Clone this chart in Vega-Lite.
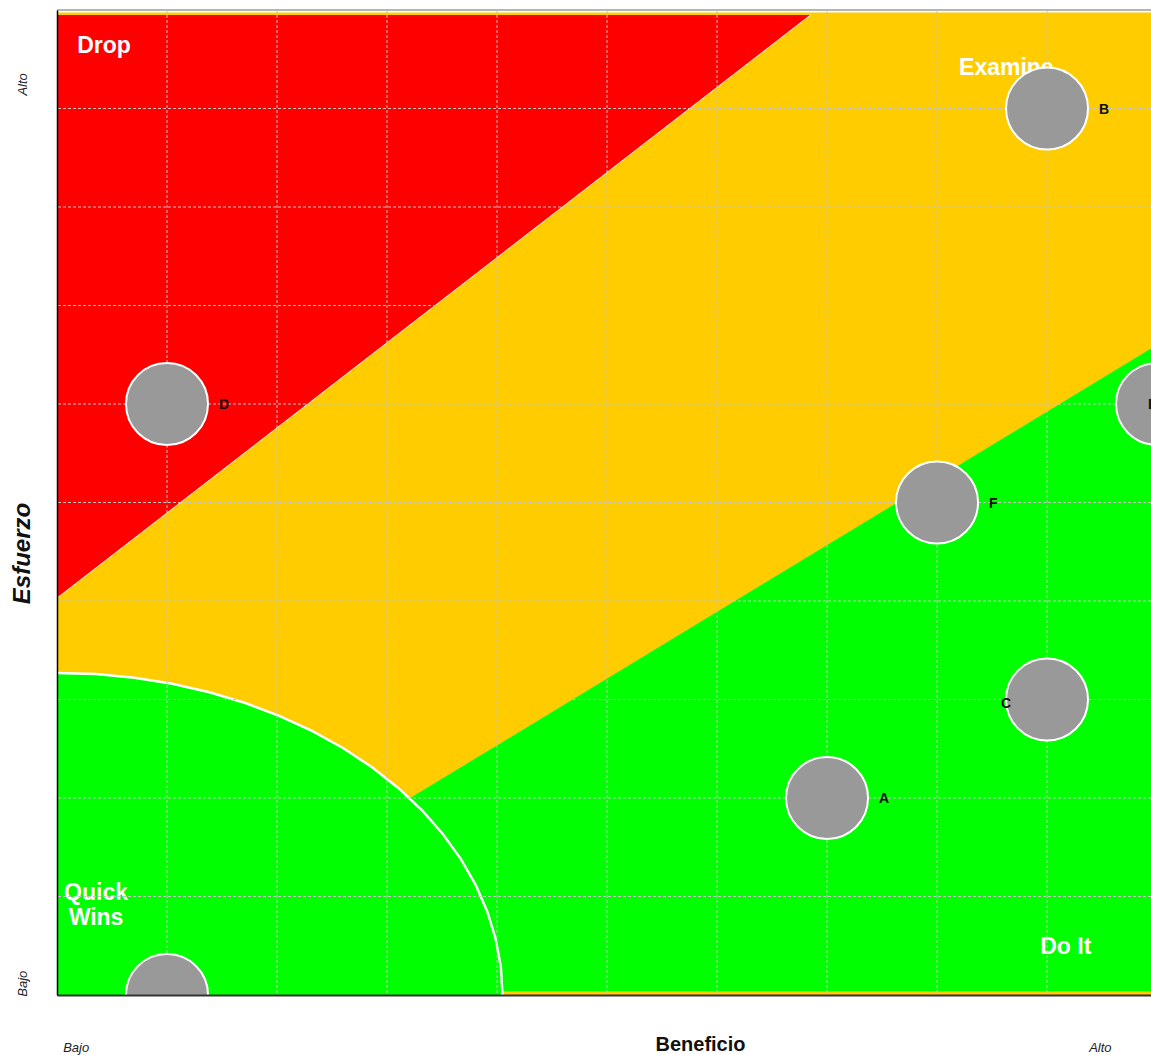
{
  "$schema": "https://vega.github.io/schema/vega-lite/v6.json",
  "width": 1094,
  "height": 985,
  "autosize": {"type": "none"},
  "padding": {"left": 57, "top": 10, "right": 0, "bottom": 60},
  "background": "white",
  "config": {"view": {"stroke": null}, "font": "Liberation Sans", "axis": {"grid": false}},
  "datasets": {
    "points": [
      {"name": "A", "beneficio": 7, "esfuerzo": 2},
      {"name": "B", "beneficio": 9, "esfuerzo": 9},
      {"name": "C", "beneficio": 9, "esfuerzo": 3},
      {"name": "D", "beneficio": 1, "esfuerzo": 6},
      {"name": "E", "beneficio": 10, "esfuerzo": 6},
      {"name": "F", "beneficio": 8, "esfuerzo": 5},
      {"name": "G", "beneficio": 1, "esfuerzo": 0}
    ],
    "arc": [
      {"x": 4.05, "y": 0},
      {"x": 4.035, "y": 0.285},
      {"x": 3.988, "y": 0.568},
      {"x": 3.912, "y": 0.846},
      {"x": 3.806, "y": 1.118},
      {"x": 3.67, "y": 1.382},
      {"x": 3.507, "y": 1.635},
      {"x": 3.318, "y": 1.876},
      {"x": 3.102, "y": 2.102},
      {"x": 2.864, "y": 2.312},
      {"x": 2.603, "y": 2.505},
      {"x": 2.323, "y": 2.679},
      {"x": 2.025, "y": 2.832},
      {"x": 1.712, "y": 2.964},
      {"x": 1.385, "y": 3.073},
      {"x": 1.048, "y": 3.159},
      {"x": 0.703, "y": 3.22},
      {"x": 0.353, "y": 3.258},
      {"x": 0, "y": 3.27}
    ],
    "gridx": [{"v": 1}, {"v": 2}, {"v": 3}, {"v": 4}, {"v": 5}, {"v": 6}, {"v": 7}, {"v": 8}, {"v": 9}],
    "gridy": [{"v": 1}, {"v": 2}, {"v": 3}, {"v": 4}, {"v": 5}, {"v": 6}, {"v": 7}, {"v": 8}, {"v": 9}],
    "regions": [
      {"label": "Drop", "x": 0.427, "y": 9.635},
      {"label": "Examine", "x": 8.63, "y": 9.41},
      {"label": "Quick\nWins", "x": 0.355, "y": 1.04},
      {"label": "Do It", "x": 9.17, "y": 0.49}
    ]
  },
  "layer": [
    {
      "data": {"values": [{"x": 0, "x2": 10, "y": 0, "y2": 9.975}]},
      "mark": {"type": "rect", "color": "#FFCC00", "clip": true},
      "encoding": {
        "x": {
          "field": "x", "type": "quantitative",
          "scale": {"domain": [0, 9.945], "nice": false, "zero": false},
          "axis": {
            "values": [0.17, 9.48],
            "labelExpr": "datum.value < 5 ? 'Bajo' : 'Alto'",
            "grid": false, "ticks": false, "tickSize": 0, "zindex": 1,
            "domain": true, "domainColor": "#333333", "domainWidth": 2,
            "labelFont": "Liberation Sans", "labelFontStyle": "italic", "labelFontSize": 13,
            "labelColor": "#222222", "labelPadding": 52, "labelBaseline": "middle",
            "labelAlign": "center", "labelFlush": false, "labelOverlap": false,
            "title": "Beneficio", "titleFont": "Liberation Sans", "titleFontSize": 20,
            "titleFontWeight": "bold", "titleColor": "#111111",
            "titleX": 643, "titleY": 49, "titleAlign": "center", "titleBaseline": "middle"
          }
        },
        "x2": {"field": "x2"},
        "y": {
          "field": "y", "type": "quantitative",
          "scale": {"domain": [0, 10], "nice": false, "zero": false},
          "axis": {
            "values": [0.12, 9.25],
            "labelExpr": "datum.value < 5 ? 'Bajo' : 'Alto'",
            "grid": false, "ticks": false, "tickSize": 0, "zindex": 1,
            "domain": true, "domainColor": "#000000", "domainWidth": 1.5,
            "labelFont": "Liberation Sans", "labelFontStyle": "italic", "labelFontSize": 13,
            "labelColor": "#222222", "labelAngle": 270, "labelAlign": "center",
            "labelBaseline": "middle", "labelPadding": 35, "labelFlush": false, "labelOverlap": false,
            "title": "Esfuerzo", "titleFont": "Liberation Sans", "titleFontSize": 24,
            "titleFontWeight": "bold", "titleFontStyle": "italic", "titleColor": "#111111",
            "titleAngle": 270, "titleX": -35, "titleY": 543, "titleAlign": "center", "titleBaseline": "middle"
          }
        },
        "y2": {"field": "y2"}
      }
    },
    {
      "data": {"values": [{"x": 0, "y": 4.03, "y2": 9.95}, {"x": 6.85, "y": 9.95, "y2": 9.95}]},
      "mark": {"type": "area", "color": "#FF0000", "clip": true},
      "encoding": {
        "x": {"field": "x", "type": "quantitative"},
        "y": {"field": "y", "type": "quantitative"},
        "y2": {"field": "y2"}
      }
    },
    {
      "data": {"values": [{"x": 0, "y": 4.03}, {"x": 6.85, "y": 9.95}]},
      "mark": {"type": "line", "color": "#FFFFFF", "strokeWidth": 1, "opacity": 0.85, "clip": true},
      "encoding": {
        "x": {"field": "x", "type": "quantitative"},
        "y": {"field": "y", "type": "quantitative"}
      }
    },
    {
      "data": {"values": [{"x": 0.31, "y": 0.035, "y2": 0.035}, {"x": 10, "y": 6.6, "y2": 0.035}]},
      "mark": {"type": "area", "color": "#00FF00", "clip": true},
      "encoding": {
        "x": {"field": "x", "type": "quantitative"},
        "y": {"field": "y", "type": "quantitative"},
        "y2": {"field": "y2"}
      }
    },
    {
      "data": {"name": "arc"},
      "mark": {"type": "area", "color": "#00FF00", "clip": true},
      "encoding": {
        "x": {"field": "x", "type": "quantitative"},
        "y": {"field": "y", "type": "quantitative"},
        "y2": {"datum": 0}
      }
    },
    {
      "data": {"name": "arc"},
      "mark": {"type": "line", "color": "#FFFFFF", "strokeWidth": 2.5, "clip": true},
      "encoding": {
        "x": {"field": "x", "type": "quantitative"},
        "y": {"field": "y", "type": "quantitative"}
      }
    },
    {
      "data": {"name": "regions"},
      "mark": {"type": "text", "color": "#FFFFFF", "font": "Liberation Sans", "fontSize": 23, "fontWeight": "bold", "align": "center", "baseline": "middle", "lineBreak": "\n", "lineHeight": 25},
      "encoding": {
        "x": {"field": "x", "type": "quantitative"},
        "y": {"field": "y", "type": "quantitative"},
        "text": {"field": "label"}
      }
    },
    {
      "data": {"name": "gridx"},
      "mark": {"type": "rule", "color": "#c4c4c4", "strokeWidth": 1, "strokeDash": [3, 2]},
      "encoding": {
        "x": {"field": "v", "type": "quantitative"}
      }
    },
    {
      "data": {"name": "gridy"},
      "mark": {"type": "rule", "color": "#c4c4c4", "strokeWidth": 1, "strokeDash": [3, 2]},
      "encoding": {
        "y": {"field": "v", "type": "quantitative"}
      }
    },
    {
      "data": {"values": [{"v": 10}]},
      "mark": {"type": "rule", "color": "#b5b5b5", "strokeWidth": 2},
      "encoding": {
        "y": {"field": "v", "type": "quantitative"}
      }
    },
    {
      "data": {"name": "points"},
      "mark": {"type": "point", "shape": "circle", "filled": true, "fill": "#999999", "stroke": "#FFFFFF", "strokeWidth": 2, "opacity": 1, "fillOpacity": 1, "strokeOpacity": 1, "size": 6724, "clip": true},
      "encoding": {
        "x": {"field": "beneficio", "type": "quantitative"},
        "y": {"field": "esfuerzo", "type": "quantitative"}
      }
    },
    {
      "data": {"name": "points"},
      "transform": [{"filter": "indexof(['A','B','D','F'], datum.name) >= 0"}],
      "mark": {"type": "text", "color": "#111111", "font": "Liberation Sans", "fontSize": 14, "fontWeight": "bold", "align": "left", "baseline": "middle", "dx": 52, "dy": 1},
      "encoding": {
        "x": {"field": "beneficio", "type": "quantitative"},
        "y": {"field": "esfuerzo", "type": "quantitative"},
        "text": {"field": "name"}
      }
    },
    {
      "data": {"name": "points"},
      "transform": [{"filter": "datum.name == 'C'"}],
      "mark": {"type": "text", "color": "#111111", "font": "Liberation Sans", "fontSize": 14, "fontWeight": "bold", "align": "right", "baseline": "middle", "dx": -36, "dy": 4},
      "encoding": {
        "x": {"field": "beneficio", "type": "quantitative"},
        "y": {"field": "esfuerzo", "type": "quantitative"},
        "text": {"field": "name"}
      }
    },
    {
      "data": {"name": "points"},
      "transform": [{"filter": "datum.name == 'E'"}],
      "mark": {"type": "text", "color": "#111111", "font": "Liberation Sans", "fontSize": 14, "fontWeight": "bold", "align": "left", "baseline": "middle", "dx": -9, "dy": 1},
      "encoding": {
        "x": {"field": "beneficio", "type": "quantitative"},
        "y": {"field": "esfuerzo", "type": "quantitative"},
        "text": {"field": "name"}
      }
    }
  ]
}
